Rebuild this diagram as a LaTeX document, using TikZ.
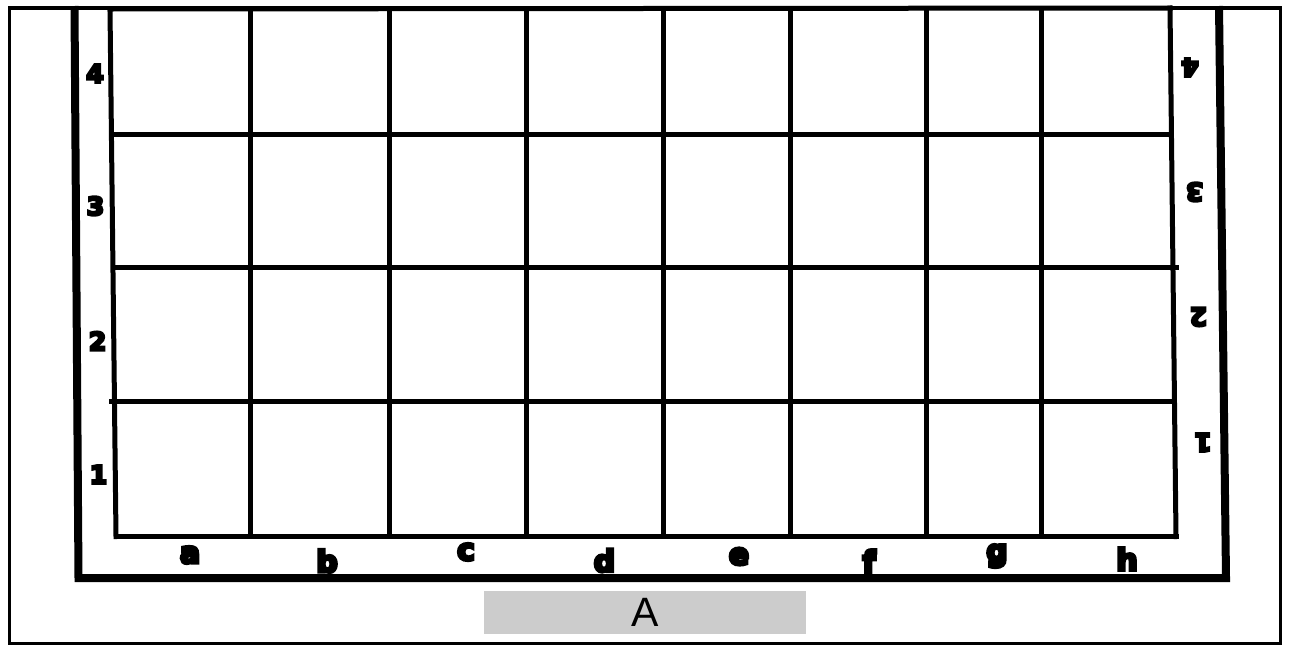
\documentclass[tikz,border=0pt]{standalone}
\usepackage{fontspec}
\setmainfont{Liberation Sans}
\font\heavydigit="DejaVu Sans/B:embolden=10" at 25pt
\font\heavyletter="DejaVu Sans/B:embolden=10" at 30pt
\definecolor{boxgray}{RGB}{204,204,204}
\begin{document}
\begin{tikzpicture}[x=1pt,y=-1pt,
  outerline/.style={line width=3.5pt},
  frameline/.style={line width=8pt,line join=miter},
  gridline/.style={line width=5pt,line cap=rect},
  digit/.style={inner sep=0pt,font=\heavydigit},
  letter/.style={inner sep=0pt,font=\heavyletter},
  caption/.style={fill=boxgray,inner sep=0pt,minimum width=322pt,minimum height=43pt,font=\fontsize{41}{41}\selectfont}]
\useasboundingbox (0,0) rectangle (1289,646);
% outer border
\draw[outerline] (9.5,8) rectangle (1280.5,643.5);
% U-shaped frame
\coordinate (fTL) at (74.5,6);
\coordinate (fBL) at (78.5,578);
\coordinate (fBR) at (1226,578);
\coordinate (fTR) at (1219,6);
\draw[frameline] (fTL) -- (fBL) -- (fBR) -- (fTR);
% grid corners
\coordinate (gTL) at (110,9);
\coordinate (gBL) at (116,536.5);
\coordinate (gBR) at (1176,536.5);
\coordinate (gTR) at (1170,8);
\draw[gridline] (gTL) -- (gTR);
\draw[gridline] (gTL) -- (gBL);
\draw[gridline] (gTR) -- (gBR);
\draw[gridline] (gBL) -- (gBR);
% horizontal lines
\coordinate (h1a) at (112,134.5); \coordinate (h1b) at (1169,134.5);
\coordinate (h2a) at (113,267.5); \coordinate (h2b) at (1176,267.5);
\coordinate (h3a) at (111,401);   \coordinate (h3b) at (1173,401);
\draw[gridline] (h1a) -- (h1b);
\draw[gridline] (h2a) -- (h2b);
\draw[gridline] (h3a) -- (h3b);
% vertical lines
\foreach \x [count=\i] in {250,389,526.5,663,790.5,926,1041} {
  \coordinate (v\i a) at (\x,9);
  \coordinate (v\i b) at (\x,536.5);
  \draw[gridline] (v\i a) -- (v\i b);
}
% left digits
\node[digit] (l4) at (95,73.5) {4};
\node[digit] (l3) at (95.5,206) {3};
\node[digit] (l2) at (97.5,341) {2};
\node[digit] (l1) at (98.5,474.5) {1};
% right digits (upside down)
\node[digit,rotate=180] (r4) at (1190,67.5) {4};
\node[digit,rotate=180] (r3) at (1194.5,192) {3};
\node[digit,rotate=180] (r2) at (1198.5,317) {2};
\node[digit,rotate=180] (r1) at (1203,442.5) {1};
% bottom letters
\node[letter] (la) at (190,555) {a};
\node[letter] (lb) at (327,561) {b};
\node[letter] (lc) at (466,552) {c};
\node[letter] (ld) at (604.5,560.5) {d};
\node[letter] (le) at (739,556.5) {e};
\node[letter] (lf) at (869,561) {f};
\node[letter] (lg) at (997,556) {g};
\node[letter] (lh) at (1127,559) {h};
% caption box
\node[caption] (cap) at (645,612.5) {A};
\end{tikzpicture}
\end{document}
